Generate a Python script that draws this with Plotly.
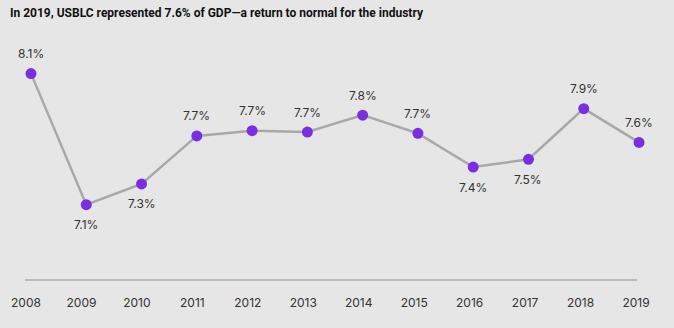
import plotly.graph_objects as go

# USBLC share of GDP by year (percent)
years = [2008, 2009, 2010, 2011, 2012, 2013, 2014, 2015, 2016, 2017, 2018, 2019]
gdp_share = [8.14, 7.13, 7.29, 7.66, 7.70, 7.69, 7.82, 7.68, 7.42, 7.48, 7.87, 7.61]
# which side of the point each value label sits on (+1 above, -1 below)
label_side = [1, -1, -1, 1, 1, 1, 1, 1, -1, -1, 1, 1]

title_text = "In 2019, USBLC represented 7.6% of GDP\u2014a return to normal for the industry"
figure_tag = "Figure 1"

BG = "#e6e6e6"
LINE = "#a8a8a8"
PURPLE = "#7a2ee0"
TEXT = "#333333"
FONT = "Inter, Roboto, Arial, sans-serif"
TITLE_FONT = "Roboto, Inter, Arial, sans-serif"

fig = go.Figure()

fig.add_trace(go.Scatter(
    x=years,
    y=gdp_share,
    mode="lines+markers",
    line=dict(color=LINE, width=2.5),
    marker=dict(color=PURPLE, size=11),
    cliponaxis=False,
    hoverinfo="skip",
    showlegend=False,
))

# invisible trace to attach the labelled year axis
fig.add_trace(go.Scatter(
    x=years, y=gdp_share, xaxis="x2", mode="markers",
    marker=dict(opacity=0), hoverinfo="skip", showlegend=False,
))

# value labels above / below each point
for x, v, side in zip(years, gdp_share, label_side):
    fig.add_annotation(
        x=x, y=v, xref="x", yref="y",
        text=f"{v:.1f}%",
        showarrow=False,
        yshift=20 * side,
        font=dict(family=FONT, size=12, color=TEXT),
    )

# baseline under the series, spanning the first to last year label
fig.add_shape(
    type="line", xref="x2", yref="y domain",
    x0=years[0] - 0.02, x1=years[-1] + 0.02, y0=0, y1=0,
    line=dict(color="#ababab", width=1.5),
)

# figure tag, mostly cut off by the top edge
fig.add_annotation(
    x=10 / 674, y=1.154, xref="paper", yref="paper",
    xanchor="left", yanchor="bottom",
    text=figure_tag, showarrow=False,
    font=dict(family=FONT, size=11, color=TEXT),
)

fig.update_layout(
    width=674, height=328,
    margin=dict(l=20, r=30, t=40, b=48),
    paper_bgcolor=BG,
    plot_bgcolor=BG,
    font=dict(family=FONT, size=12, color=TEXT),
    title=dict(
        text=f"<b>{title_text}</b>",
        x=10 / 674, xanchor="left",
        y=1 - 13 / 328, yanchor="middle",
        font=dict(family=TITLE_FONT, size=12, color="#111111"),
    ),
    xaxis=dict(
        range=[2007.801, 2019.090],
        showticklabels=False, showgrid=False, zeroline=False,
        showline=False, ticks="",
    ),
    xaxis2=dict(
        overlaying="x", anchor="y", side="bottom",
        range=[2007.892, 2019.144],
        tickmode="array", tickvals=years, ticktext=[str(y) for y in years],
        showgrid=False, zeroline=False, showline=False,
        ticks="", ticklabelstandoff=14,
        tickfont=dict(family=FONT, size=12, color=TEXT),
    ),
    yaxis=dict(
        range=[6.550, 8.399],
        showticklabels=False, showgrid=False, zeroline=False,
        showline=False, ticks="",
    ),
)

fig.write_html("out.html")
